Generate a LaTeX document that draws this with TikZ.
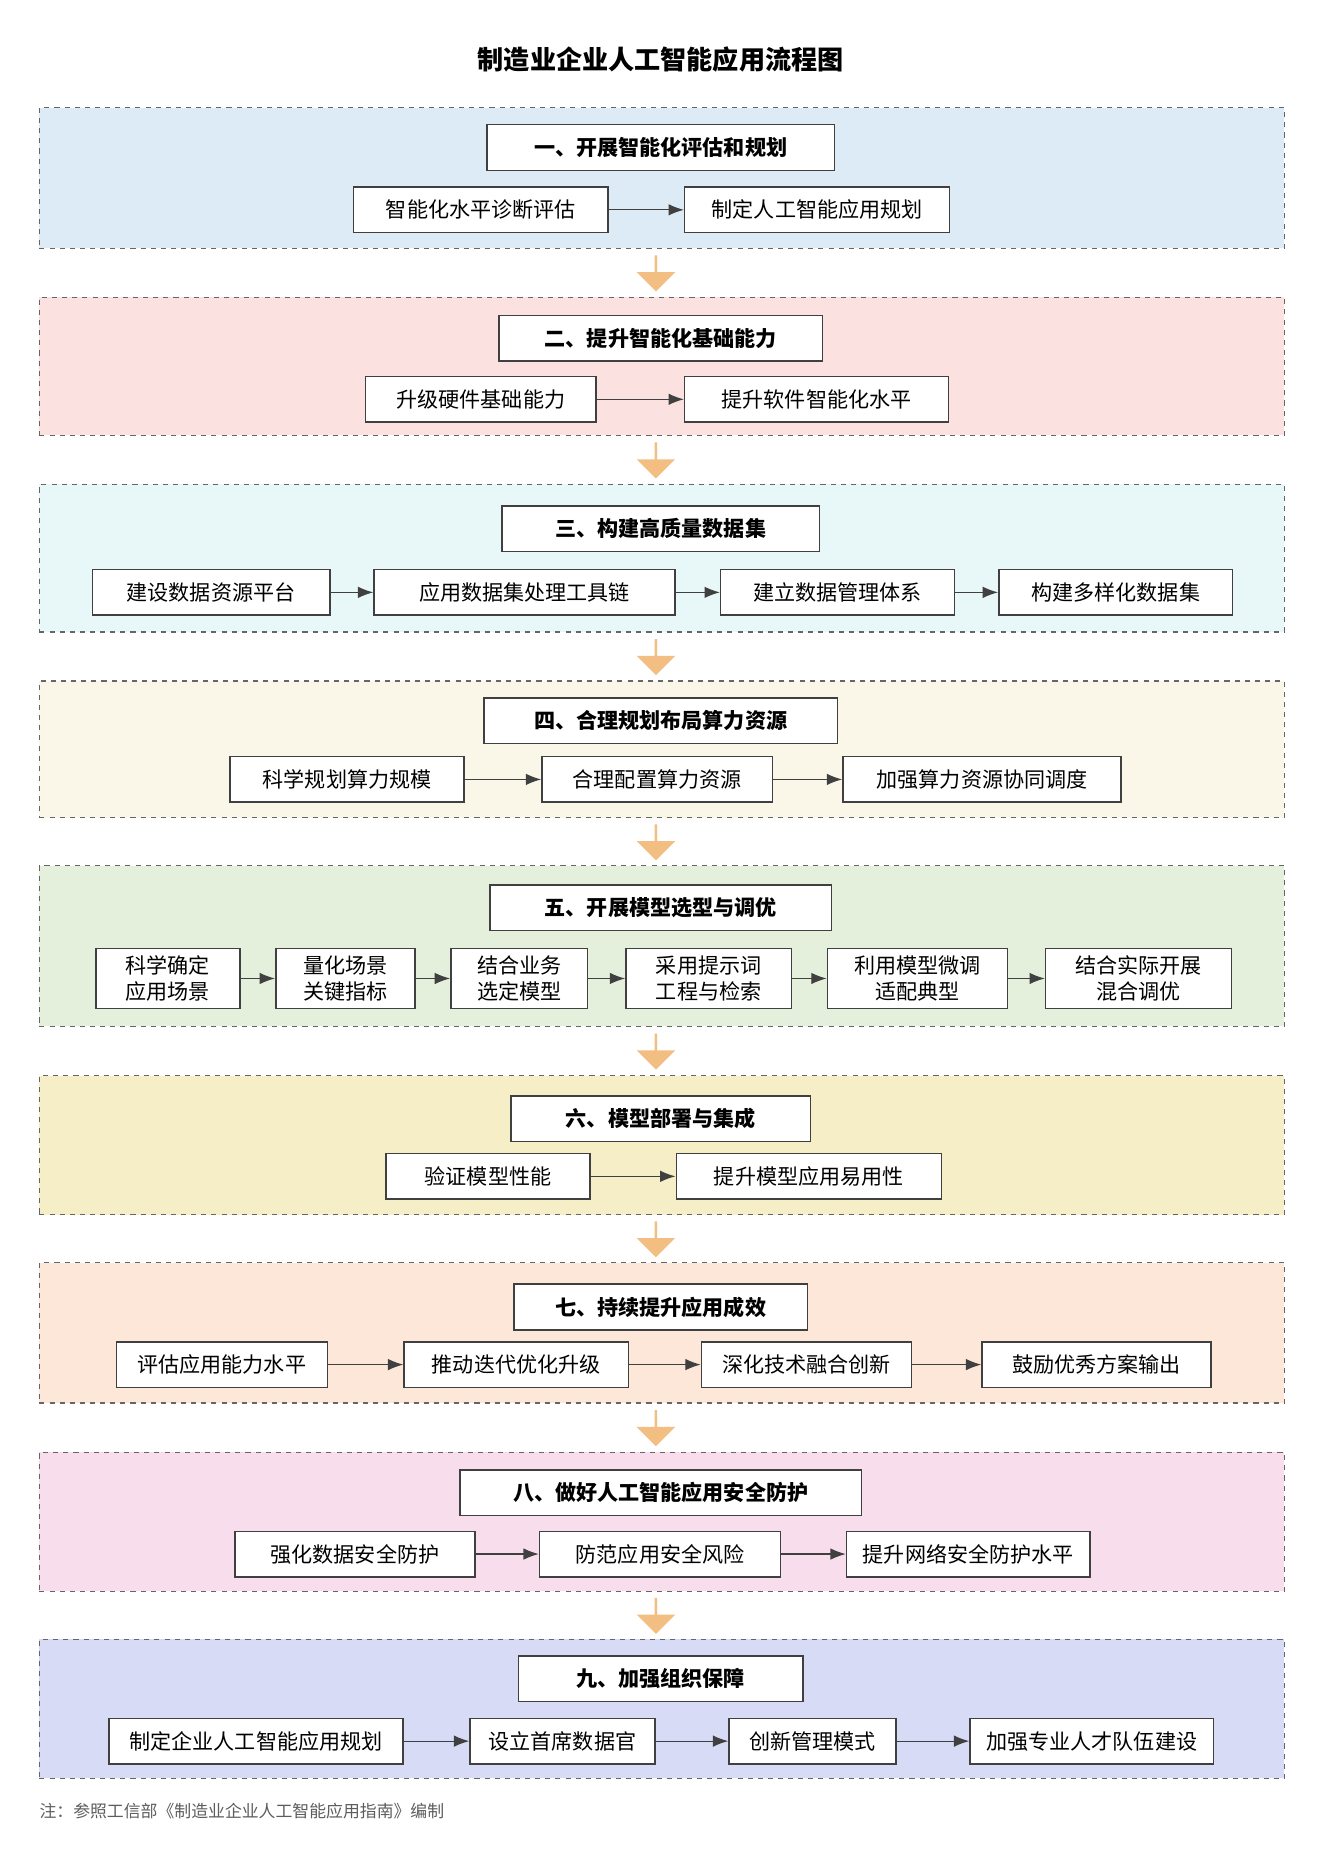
\documentclass[tikz,border=0pt]{standalone}
\usepackage{fontspec}
\setmainfont{Noto Sans CJK SC}
\usetikzlibrary{arrows.meta,shapes.arrows}

\definecolor{bgA}{HTML}{DDEBF7}
\definecolor{bgB}{HTML}{FBE1DF}
\definecolor{bgC}{HTML}{E8F7F7}
\definecolor{bgD}{HTML}{FAF7E8}
\definecolor{bgE}{HTML}{E4F0DC}
\definecolor{bgF}{HTML}{F5EEC6}
\definecolor{bgG}{HTML}{FCE7D8}
\definecolor{bgH}{HTML}{F8DDEC}
\definecolor{bgI}{HTML}{D8DBF5}
\definecolor{bigorange}{HTML}{F3BE82}
\definecolor{edge}{HTML}{404040}

\tikzset{
	frame/.style={draw=edge!80,dashed,line width=0.7pt,minimum width=25.95cm},
	head/.style={draw=edge,fill=white,line width=0.9pt,minimum height=0.95cm,font=\fontsize{12.5}{15}\selectfont\bfseries},
	box/.style={draw=edge,fill=white,line width=0.9pt,minimum height=0.95cm,font=\fontsize{12.5}{15}\selectfont},
	tall/.style={box,minimum height=1.25cm,align=center},
	flow/.style={-{Latex[length=3.2mm,width=2.4mm]},line width=0.7pt,draw=edge},
	down/.style={single arrow,fill=bigorange,draw=none,rotate=-90,minimum height=0.75cm,minimum width=0.8cm,single arrow head extend=0.1cm,inner sep=0pt},
}

\begin{document}
\begin{tikzpicture}[x=0.025cm,y=-0.025cm]
	\useasboundingbox[fill=white] (0,0) rectangle (1100,1562);

	\node[font=\fontsize{15.5}{18}\selectfont\bfseries] (title) at (551,50) {制造业企业人工智能应用流程图};

	% section 1
	\node[frame,fill=bgA,minimum height=2.925cm] (fA) at (552,148.5) {};
	\node[head,minimum width=7.25cm] (tA) at (551,123) {一、开展智能化评估和规划};
	\node[box,minimum width=5.3cm] (a1) at (401,175) {智能化水平诊断评估};
	\node[box,minimum width=5.525cm] (a2) at (681.5,175) {制定人工智能应用规划};
	\draw[flow] (a1) -- (a2);
	\node[down] (dA) at (547,227.5) {};

	% section 2
	\node[frame,fill=bgB,minimum height=2.875cm] (fB) at (552,305.5) {};
	\node[head,minimum width=6.75cm] (tB) at (551,282) {二、提升智能化基础能力};
	\node[box,minimum width=4.8cm] (b1) at (401,333) {升级硬件基础能力};
	\node[box,minimum width=5.5cm] (b2) at (681,333) {提升软件智能化水平};
	\draw[flow] (b1) -- (b2);
	\node[down] (dB) at (547,383.5) {};

	% section 3
	\node[frame,fill=bgC,minimum height=3.075cm] (fC) at (552,465.5) {};
	\node[head,minimum width=6.625cm] (tC) at (551,441) {三、构建高质量数据集};
	\node[box,minimum width=4.95cm] (c1) at (176,494) {建设数据资源平台};
	\node[box,minimum width=6.275cm] (c2) at (437.5,494) {应用数据集处理工具链};
	\node[box,minimum width=4.875cm] (c3) at (698.5,494) {建立数据管理体系};
	\node[box,minimum width=4.875cm] (c4) at (930.5,494) {构建多样化数据集};
	\draw[flow] (c1) -- (c2);
	\draw[flow] (c2) -- (c3);
	\draw[flow] (c3) -- (c4);
	\node[down] (dC) at (547,547.5) {};

	% section 4
	\node[frame,fill=bgD,minimum height=2.85cm] (fD) at (552,625) {};
	\node[head,minimum width=7.375cm] (tD) at (551,601) {四、合理规划布局算力资源};
	\node[box,minimum width=4.875cm] (d1) at (289.5,650) {科学规划算力规模};
	\node[box,minimum width=4.8cm] (d2) at (548,650) {合理配置算力资源};
	\node[box,minimum width=5.8cm] (d3) at (819,650) {加强算力资源协同调度};
	\draw[flow] (d1) -- (d2);
	\draw[flow] (d2) -- (d3);
	\node[down] (dD) at (547,702) {};

	% section 5
	\node[frame,fill=bgE,minimum height=3.35cm] (fE) at (552,789) {};
	\node[head,minimum width=7.125cm] (tE) at (551,757) {五、开展模型选型与调优};
	\node[tall,minimum width=3cm] (e1) at (140,816) {科学确定\\应用场景};
	\node[tall,minimum width=2.9cm] (e2) at (288,816) {量化场景\\关键指标};
	\node[tall,minimum width=2.85cm] (e3) at (433,816) {结合业务\\选定模型};
	\node[tall,minimum width=3.45cm] (e4) at (591,816) {采用提示词\\工程与检索};
	\node[tall,minimum width=3.75cm] (e5) at (765,816) {利用模型微调\\适配典型};
	\node[tall,minimum width=3.875cm] (e6) at (949.5,816) {结合实际开展\\混合调优};
	\draw[flow] (e1) -- (e2);
	\draw[flow] (e2) -- (e3);
	\draw[flow] (e3) -- (e4);
	\draw[flow] (e4) -- (e5);
	\draw[flow] (e5) -- (e6);
	\node[down] (dE) at (547,876.5) {};

	% section 6
	\node[frame,fill=bgF,minimum height=2.9cm] (fF) at (552,955) {};
	\node[head,minimum width=6.25cm] (tF) at (551,933) {六、模型部署与集成};
	\node[box,minimum width=4.25cm] (f1) at (407,981) {验证模型性能};
	\node[box,minimum width=5.525cm] (f2) at (674.5,981) {提升模型应用易用性};
	\draw[flow] (f1) -- (f2);
	\node[down] (dF) at (547,1033) {};

	% section 7
	\node[frame,fill=bgG,minimum height=2.925cm] (fG) at (552,1111.5) {};
	\node[head,minimum width=6.125cm] (tG) at (551,1090) {七、持续提升应用成效};
	\node[box,minimum width=4.4cm] (g1) at (185,1138) {评估应用能力水平};
	\node[box,minimum width=4.675cm] (g2) at (430.5,1138) {推动迭代优化升级};
	\node[box,minimum width=4.375cm] (g3) at (672.5,1138) {深化技术融合创新};
	\node[box,minimum width=4.775cm] (g4) at (914.5,1138) {鼓励优秀方案输出};
	\draw[flow] (g1) -- (g2);
	\draw[flow] (g2) -- (g3);
	\draw[flow] (g3) -- (g4);
	\node[down] (dG) at (547,1190.5) {};

	% section 8
	\node[frame,fill=bgH,minimum height=2.9cm] (fH) at (552,1269) {};
	\node[head,minimum width=8.375cm] (tH) at (551,1245) {八、做好人工智能应用安全防护};
	\node[box,minimum width=5cm] (h1) at (296,1296) {强化数据安全防护};
	\node[box,minimum width=5.025cm] (h2) at (550.5,1296) {防范应用安全风险};
	\node[box,minimum width=5.075cm] (h3) at (807.5,1296) {提升网络安全防护水平};
	\draw[flow] (h1) -- (h2);
	\draw[flow] (h2) -- (h3);
	\node[down] (dH) at (547,1347) {};

	% section 9
	\node[frame,fill=bgI,minimum height=2.9cm] (fI) at (552,1425) {};
	\node[head,minimum width=5.925cm] (tI) at (551,1400) {九、加强组织保障};
	\node[box,minimum width=6.125cm] (i1) at (213.5,1452) {制定企业人工智能应用规划};
	\node[box,minimum width=3.85cm] (i2) at (469,1452) {设立首席数据官};
	\node[box,minimum width=3.475cm] (i3) at (677.5,1452) {创新管理模式};
	\node[box,minimum width=5.075cm] (i4) at (910.5,1452) {加强专业人才队伍建设};
	\draw[flow] (i1) -- (i2);
	\draw[flow] (i2) -- (i3);
	\draw[flow] (i3) -- (i4);

	\node[anchor=west,text=edge!85,font=\fontsize{10}{12}\selectfont] (note) at (28,1510) {注：参照工信部《制造业企业人工智能应用指南》编制};
\end{tikzpicture}
\end{document}
